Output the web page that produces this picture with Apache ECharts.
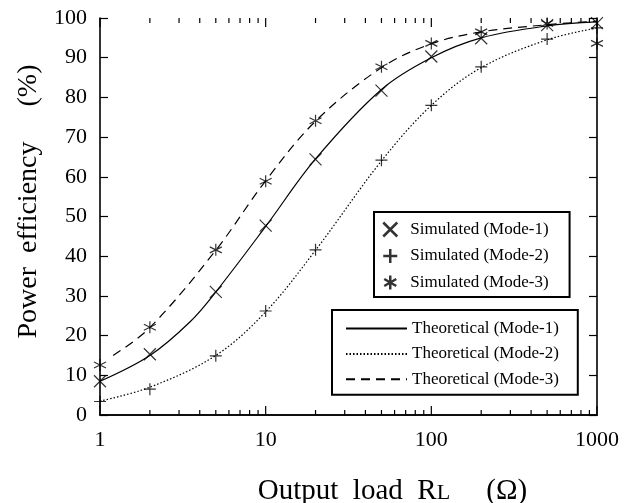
<!DOCTYPE html>
<html>
<head>
<meta charset="utf-8">
<script src="https://cdn.jsdelivr.net/npm/echarts@6/dist/echarts.min.js"></script>
<style>html,body{margin:0;padding:0;background:#fff;}#c{width:624px;height:503px;}</style>
</head>
<body>
<div id="c"></div>
<script>
// Output load RL (ohm)
var loads = [1, 2, 5, 10, 20, 50, 100, 200, 500, 1000];
// Simulated efficiencies (%)
var sim1 = [8.5, 15.3, 31, 47.7, 64.4, 81.7, 90.3, 94.9, 98.2, 98.7];
var sim2 = [3.4, 6.5, 14.9, 26.2, 41.6, 64.2, 78, 87.7, 94.7, 97.5];
var sim3 = [12.6, 22.1, 41.6, 58.9, 74.1, 87.7, 93.6, 96.5, 98.6, 93.6];
// Theoretical curves
var theoLoads1 = [1, 2, 3.5, 5, 10, 20, 50, 100, 200, 500, 1000];
var theo1 = [8.5, 15, 23.5, 31, 47.5, 64.5, 82, 90, 95, 98, 99];
var theoLoads2 = [1, 2, 5, 10, 20, 50, 100, 200, 500, 1000];
var theo2 = [3.5, 7, 15, 26, 41.5, 64, 78, 87.5, 94.5, 97.5];
var theoLoads3 = [1.2, 2, 5, 10, 20, 50, 100, 200, 500, 1000];
var theo3 = [15, 22, 41.5, 59, 74, 87.5, 93.5, 96.5, 98.3, 99.2];
// Axis ticks
var xTickValues = [1,2,3,4,5,6,7,8,9,10,20,30,40,50,60,70,80,90,100,200,300,400,500,600,700,800,900,1000];
var xMajorTicks = [1, 10, 100, 1000];

var simNames = ['Simulated (Mode-1)', 'Simulated (Mode-2)', 'Simulated (Mode-3)'];
var theoNames = ['Theoretical (Mode-1)', 'Theoretical (Mode-2)', 'Theoretical (Mode-3)'];

var SYM_X = 'path://M0,0L10,10M10,0L0,10';
var SYM_P = 'path://M5,0L5,10M0,5L10,5';
var SYM_S = 'path://M5,0L5,10M0.7,2.5L9.3,7.5M9.3,2.5L0.7,7.5';

function zip(a, b) { return a.map(function (v, i) { return [v, b[i]]; }); }

var FONT = '"Liberation Serif", "Times New Roman", serif';
var chart = echarts.init(document.getElementById('c'), null, {renderer: 'canvas'});

function scatterSeries(name, sym, vals) {
  return {
    name: name, type: 'scatter',
    data: zip(loads, vals), symbol: sym, symbolSize: 12,
    itemStyle: {color: 'rgba(0,0,0,0)', borderColor: '#000', borderWidth: 1.2},
    z: 5
  };
}
function lineSeries(name, xs, vals, dash) {
  return {
    name: name, type: 'line',
    data: zip(xs, vals), symbol: 'none', smooth: 0.35,
    itemStyle: {color: 'rgba(0,0,0,0)'},
    lineStyle: {color: '#000', width: 1.2, type: dash}, z: 4
  };
}

// x-axis tick marks along bottom (y=0) and top (y=100) edges, placed by the log axis
function tickSeries(edgeValue, dir) {
  return {
    type: 'custom', clip: false, silent: true, z: 10,
    data: xTickValues.map(function (v) { return [v, edgeValue]; }),
    renderItem: function (params, api) {
      var v = api.value(0);
      var len = xMajorTicks.indexOf(v) >= 0 ? 9 : 5;
      var p = api.coord([v, api.value(1)]);
      return {
        type: 'line',
        shape: {x1: p[0], y1: p[1], x2: p[0], y2: p[1] + dir * len},
        style: {stroke: '#000', lineWidth: 1.2}
      };
    }
  };
}

var option = {
  backgroundColor: '#fff',
  animation: false,
  grid: {left: 100, right: 27, top: 18, bottom: 88, containLabel: false, outerBoundsMode: 'none'},
  xAxis: [
    {
      type: 'log', logBase: 10, min: 1, max: 1000, position: 'bottom',
      axisLine: {show: true, lineStyle: {color: '#000', width: 1.6}},
      axisTick: {show: false},
      axisLabel: {color: '#000', fontFamily: FONT, fontSize: 22, margin: 14,
        formatter: function (v) { return String(Math.round(v)); }},
      splitLine: {show: false},
      name: 'Output  load  R{s|L}     (Ω)',
      nameLocation: 'middle', nameGap: 62,
      nameTextStyle: {color: '#000', fontFamily: FONT, fontSize: 29, padding: [0, 0, 0, 88],
        rich: {s: {fontFamily: FONT, fontSize: 22, color: '#000', padding: [3, 0, 0, 0]}}}
    },
    {
      type: 'log', logBase: 10, min: 1, max: 1000, position: 'top',
      axisLine: {show: true, lineStyle: {color: '#000', width: 1.6}},
      axisTick: {show: false},
      axisLabel: {show: false}, splitLine: {show: false}
    }
  ],
  yAxis: [
    {
      type: 'value', min: 0, max: 100, interval: 10, position: 'left',
      axisLine: {show: true, lineStyle: {color: '#000', width: 1.6}},
      axisTick: {show: true, inside: true, length: 8, lineStyle: {color: '#000', width: 1.2}},
      axisLabel: {color: '#000', fontFamily: FONT, fontSize: 22, margin: 13},
      splitLine: {show: false},
      name: 'Power  efficiency     (%)',
      nameLocation: 'middle', nameRotate: 90, nameGap: 50,
      nameTextStyle: {color: '#000', fontFamily: FONT, fontSize: 28, padding: [0, 0, 0, 30]}
    },
    {
      type: 'value', min: 0, max: 100, interval: 10, position: 'right',
      axisLine: {show: true, lineStyle: {color: '#000', width: 1.6}},
      axisTick: {show: true, inside: true, length: 8, lineStyle: {color: '#000', width: 1.2}},
      axisLabel: {show: false}, splitLine: {show: false}
    }
  ],
  legend: [
    {
      data: [
        {name: simNames[0], icon: SYM_X},
        {name: simNames[1], icon: SYM_P},
        {name: simNames[2], icon: SYM_S}
      ],
      orient: 'vertical', left: 374, top: 212,
      padding: [9, 21, 6, 8], itemGap: 9.5, itemWidth: 30, itemHeight: 14,
      borderColor: '#000', borderWidth: 2, backgroundColor: '#fff',
      itemStyle: {color: 'rgba(0,0,0,0)', borderColor: '#000', borderWidth: 2.5},
      textStyle: {color: '#000', fontFamily: FONT, fontSize: 17},
      selectedMode: false
    },
    {
      data: theoNames,
      orient: 'vertical', left: 332, top: 310,
      padding: [10, 19, 7, 13], itemGap: 8.4, itemWidth: 61, itemHeight: 14,
      borderColor: '#000', borderWidth: 2, backgroundColor: '#fff',
      itemStyle: {color: 'rgba(0,0,0,0)', borderColor: 'rgba(0,0,0,0)', borderWidth: 0},
      lineStyle: {width: 2},
      textStyle: {color: '#000', fontFamily: FONT, fontSize: 17},
      selectedMode: false
    }
  ],
  series: [
    scatterSeries(simNames[0], SYM_X, sim1),
    scatterSeries(simNames[1], SYM_P, sim2),
    scatterSeries(simNames[2], SYM_S, sim3),
    lineSeries(theoNames[0], theoLoads1, theo1, 'solid'),
    lineSeries(theoNames[1], theoLoads2, theo2, [1.5, 2]),
    lineSeries(theoNames[2], theoLoads3, theo3, [9, 6]),
    tickSeries(0, -1),
    tickSeries(100, 1)
  ]
};
chart.setOption(option);
</script>
</body>
</html>
